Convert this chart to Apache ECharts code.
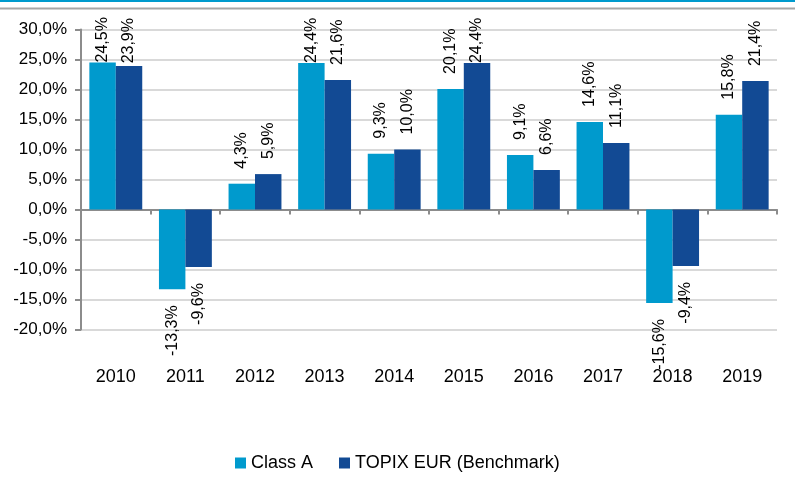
<!DOCTYPE html>
<html>
<head>
<meta charset="utf-8">
<script src="https://cdn.jsdelivr.net/npm/echarts@6/dist/echarts.min.js"></script>
<style>
  html, body { margin: 0; padding: 0; background: #fff; }
  #chart { width: 795px; height: 488px; }
</style>
</head>
<body>
<div id="chart"></div>
<script>
// annual performance, in %
var years = ['2010', '2011', '2012', '2013', '2014', '2015', '2016', '2017', '2018', '2019'];
var classA = [24.5, -13.3, 4.3, 24.4, 9.3, 20.1, 9.1, 14.6, -15.6, 15.8];
var topix = [23.9, -9.6, 5.9, 21.6, 10.0, 24.4, 6.6, 11.1, -9.4, 21.4];
var seriesNames = ['Class A', 'TOPIX EUR (Benchmark)'];
var colors = ['#009acd', '#124a94'];

var FONT = '"Liberation Sans", Arial, sans-serif';

function pct(v) {
    return v.toFixed(1).replace('.', ',') + '%';
}

// labels sit above positive bars / below negative ones, rotated
function buildData(values, dists) {
    return values.map(function (v, i) {
        if (v < 0) {
            return { value: v, label: { position: 'bottom', align: 'right', distance: 16 } };
        }
        return { value: v, label: { position: 'top', align: 'left', distance: dists ? dists[i] : 15 } };
    });
}

var chart = echarts.init(document.getElementById('chart'));

var option = {
    animation: false,
    color: colors,
    textStyle: { fontFamily: FONT },
    grid: { left: 81, right: 18, top: 29.5, bottom: 158.5, containLabel: false },
    graphic: [
        { type: 'rect', shape: { x: 0, y: 0, width: 795, height: 2 }, style: { fill: '#009acd' } },
        { type: 'rect', shape: { x: 0, y: 7.5, width: 795, height: 2 }, style: { fill: '#a6a6a6' } }
    ],
    legend: {
        data: seriesNames,
        left: 230,
        top: 449,
        icon: 'rect',
        itemWidth: 11,
        itemHeight: 11,
        itemGap: 26,
        textStyle: { fontSize: 18, color: '#000', fontFamily: FONT }
    },
    xAxis: [
        {
            type: 'category',
            data: years,
            axisLine: { onZero: true, lineStyle: { color: '#8c8c8c', width: 2 } },
            axisTick: { show: true, length: 5, lineStyle: { color: '#8c8c8c', width: 2 } },
            axisLabel: { show: false },
            splitLine: { show: false }
        },
        {
            type: 'category',
            data: years,
            position: 'bottom',
            axisLine: { show: false, onZero: false },
            axisTick: { show: false },
            axisLabel: { fontSize: 18, color: '#000', margin: 39, fontFamily: FONT },
            splitLine: { show: false }
        }
    ],
    yAxis: {
        type: 'value',
        min: -20,
        max: 30,
        interval: 5,
        axisLine: { show: true, lineStyle: { color: '#8c8c8c', width: 2 } },
        axisTick: { show: true, length: 6, lineStyle: { color: '#8c8c8c', width: 2 } },
        axisLabel: {
            fontSize: 17, color: '#000', margin: 14, fontFamily: FONT,
            formatter: function (v) { return pct(v); }
        },
        splitLine: { lineStyle: { color: '#d9d9d9', width: 2 } }
    },
    series: [
        {
            name: seriesNames[0],
            type: 'bar',
            xAxisIndex: 0,
            barGap: '0%',
            barCategoryGap: '24%',
            data: buildData(classA),
            label: {
                show: true, rotate: 90, verticalAlign: 'middle',
                fontSize: 16, color: '#000', fontFamily: FONT,
                formatter: function (p) { return pct(p.value); }
            }
        },
        {
            name: seriesNames[1],
            type: 'bar',
            xAxisIndex: 0,
            barGap: '0%',
            barCategoryGap: '24%',
            data: buildData(topix),
            label: {
                show: true, rotate: 90, verticalAlign: 'middle',
                fontSize: 16, color: '#000', fontFamily: FONT,
                formatter: function (p) { return pct(p.value); }
            }
        }
    ]
};

chart.setOption(option);

// keep tall labels from running past the top of the chart (Excel pushes them down)
var ctx = document.createElement('canvas').getContext('2d');
ctx.font = '16px ' + FONT;
function fitDists(values) {
    return values.map(function (v) {
        var barTop = chart.convertToPixel({ yAxisIndex: 0 }, v);
        var len = ctx.measureText(pct(v)).width;
        return Math.max(0, Math.min(15, barTop - 18 - len));
    });
}
chart.setOption({
    series: [
        { data: buildData(classA, fitDists(classA)) },
        { data: buildData(topix, fitDists(topix)) }
    ]
});
</script>
</body>
</html>
